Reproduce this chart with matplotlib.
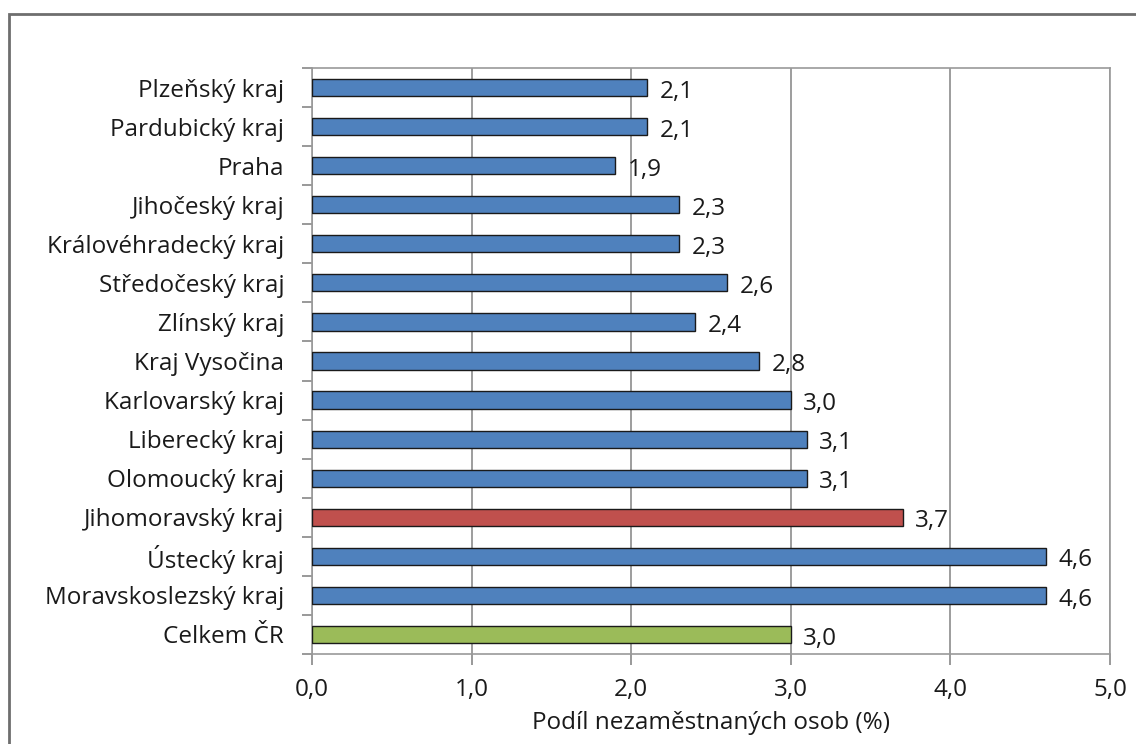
import matplotlib.pyplot as plt
from matplotlib.patches import Rectangle

regions = ['Plzeňský kraj', 'Pardubický kraj', 'Praha', 'Jihočeský kraj',
           'Královéhradecký kraj', 'Středočeský kraj', 'Zlínský kraj',
           'Kraj Vysočina', 'Karlovarský kraj', 'Liberecký kraj',
           'Olomoucký kraj', 'Jihomoravský kraj', 'Ústecký kraj',
           'Moravskoslezský kraj', 'Celkem ČR']
values = [2.1, 2.1, 1.9, 2.3, 2.3, 2.6, 2.4, 2.8, 3.0, 3.1, 3.1, 3.7, 4.6, 4.6, 3.0]
colors = ['#4F81BD'] * 11 + ['#C0504D', '#4F81BD', '#4F81BD', '#9BBB59']
xticks = [0, 1, 2, 3, 4, 5]

plt.rcParams['font.family'] = ['Open Sans', 'DejaVu Sans']
fs = 17.5
tc = '#1a1a1a'

fig = plt.figure(figsize=(11.36, 7.44), dpi=100)
# outer frame of the chart object
fig.patches.append(Rectangle((9 / 1136, -0.1), 1.2, (744 - 14) / 744 + 0.1,
                             transform=fig.transFigure, fill=False,
                             edgecolor='#6e6e6e', linewidth=2))

ax = fig.add_axes([312 / 1136, 1 - 654 / 744, (1110 - 312) / 1136, (654 - 68) / 744])

ypos = list(range(len(regions)))
ax.barh(ypos, values, height=0.44, color=colors, edgecolor='#1a1a1a', linewidth=1.0, zorder=3)

# data labels sit a touch below the bar centre, as in the original
for y, v in zip(ypos, values):
    ax.annotate(f'{v:.1f}'.replace('.', ','), (v, y), xytext=(9, -3),
                textcoords='offset points', va='center', ha='left', fontsize=fs,
                color=tc)

ax.set_ylim(len(regions) - 0.5, -0.5)
ax.set_xlim(0, 5)
ax.set_yticks(ypos)
ax.set_yticklabels(regions, fontsize=fs, color=tc)
ax.set_yticks([i - 0.5 for i in range(len(regions) + 1)], minor=True)
ax.tick_params(axis='y', which='major', length=0, pad=20)
ax.tick_params(axis='y', which='minor', length=7, color='#888888', width=1.2)
ax.set_xticks(xticks)
ax.set_xticklabels([f'{t:.1f}'.replace('.', ',') for t in xticks], fontsize=fs, color=tc)
ax.tick_params(axis='x', length=8, color='#888888', width=1.2, pad=9)
ax.set_xlabel('Podíl nezaměstnaných osob (%)', fontsize=fs, color=tc, labelpad=7)

ax.grid(axis='x', color='#8c8c8c', linewidth=1.2, zorder=0)
for s in ax.spines.values():
    s.set_color('#999999')
    s.set_linewidth(1.2)

fig.savefig('out.png', dpi=100)
